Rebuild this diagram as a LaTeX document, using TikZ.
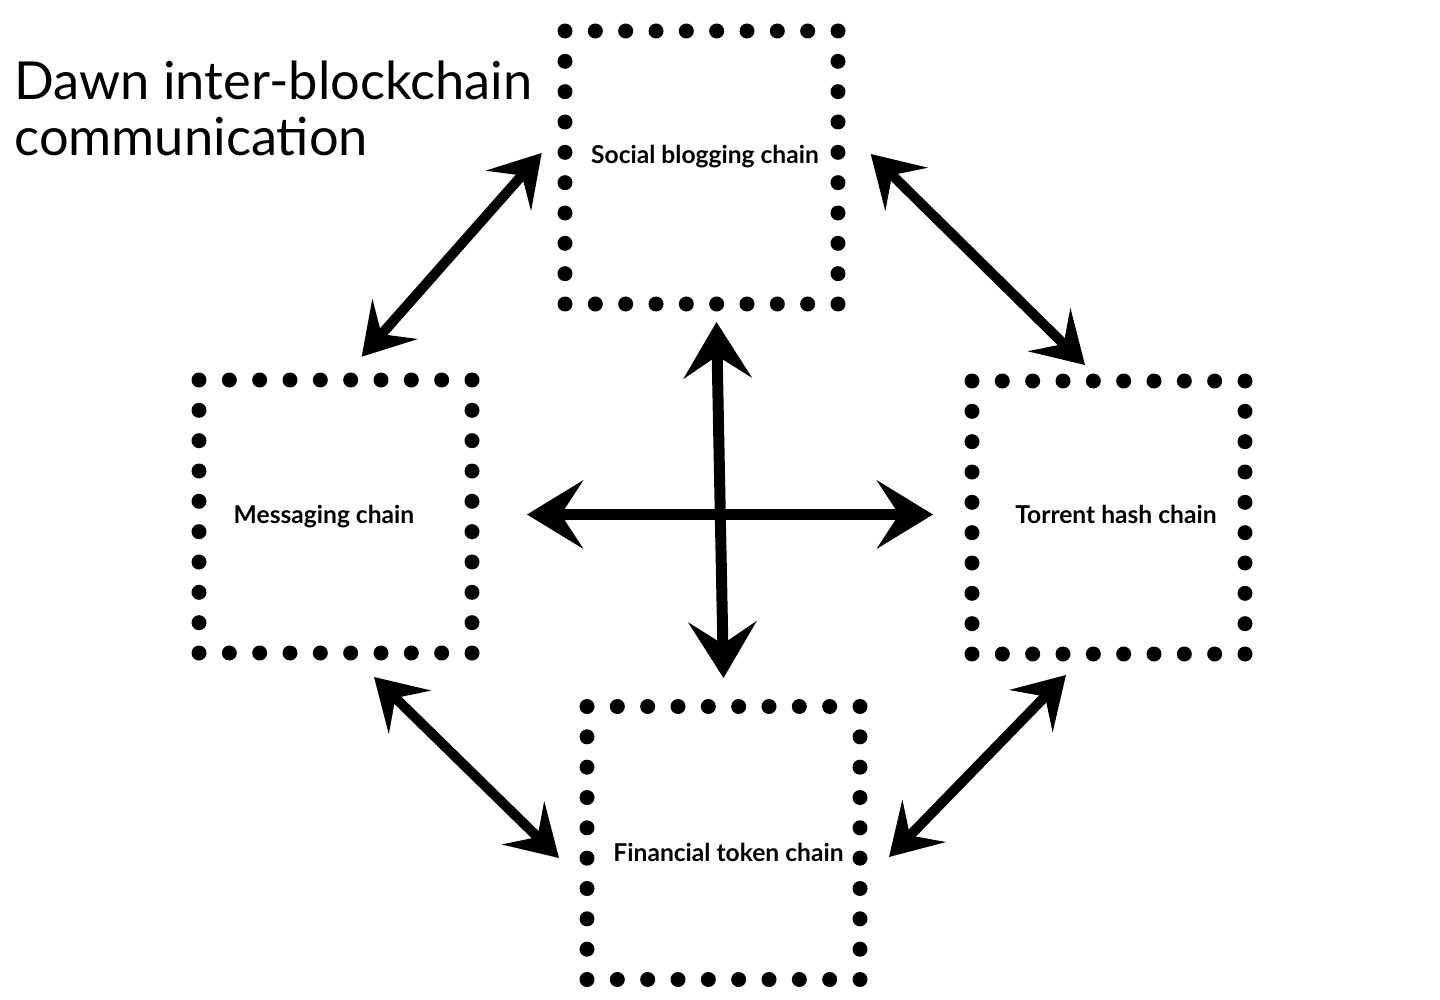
\documentclass[tikz,border=0pt]{standalone}
\usepackage{fontspec}
\setmainfont{Lato}
\usetikzlibrary{arrows.meta,positioning}

\begin{document}
\begin{tikzpicture}[x=0.5pt,y=-0.5pt]
       \tikzstyle{chain}=[draw,line width=7.5pt,line cap=round,dash pattern=on 0pt off 15.1667pt,minimum size=136.5pt,inner sep=0pt]
       \tikzstyle{lbl}=[font=\fontsize{12.3}{14}\selectfont\bfseries,inner sep=0pt,anchor=base]
       \tikzstyle{link}=[line width=5.5pt,{Stealth[length=28pt,width=34pt,inset=11pt]}-{Stealth[length=28pt,width=34pt,inset=11pt]}]
       \tikzstyle{slink}=[line width=5pt,{Stealth[length=25pt,width=30pt,inset=10pt]}-{Stealth[length=25pt,width=30pt,inset=10pt]}]

       \useasboundingbox (0,0) rectangle (1440,1000);

       \node[align=left,anchor=north west,inner sep=0pt,font=\fontsize{26.2}{28}\selectfont] (title) at (14,61) {Dawn inter-blockchain\\communication};

       \node[chain] (social) at (701.5,167.5) {};
       \node[chain] (msg) at (335.5,516.5) {};
       \node[chain] (torrent) at (1108.5,517.5) {};
       \node[chain] (fin) at (723.5,843) {};

       \node[lbl] (social_t) at (705,164) {Social blogging chain};
       \node[lbl] (msg_t) at (324,523) {Messaging chain};
       \node[lbl] (torrent_t) at (1116,523) {Torrent hash chain};
       \node[lbl] (fin_t) at (728.5,861) {Financial token chain};

       \coordinate (c_w) at (527,514.5);
       \coordinate (c_e) at (933,514.5);
       \coordinate (c_n) at (716.5,322);
       \coordinate (c_s) at (723.5,678);
       \coordinate (sm_1) at (541.7,153);
       \coordinate (sm_2) at (361.7,356.7);
       \coordinate (st_1) at (870.7,154);
       \coordinate (st_2) at (1085,365);
       \coordinate (mf_1) at (374,677);
       \coordinate (mf_2) at (559,858);
       \coordinate (tf_1) at (1066,675);
       \coordinate (tf_2) at (889,857);

       \draw[link] (c_w) -- (c_e);
       \draw[link] (c_n) -- (c_s);
       \draw[slink] (sm_1) -- (sm_2);
       \draw[slink] (st_1) -- (st_2);
       \draw[slink] (mf_1) -- (mf_2);
       \draw[slink] (tf_1) -- (tf_2);
     \end{tikzpicture}
\end{document}
